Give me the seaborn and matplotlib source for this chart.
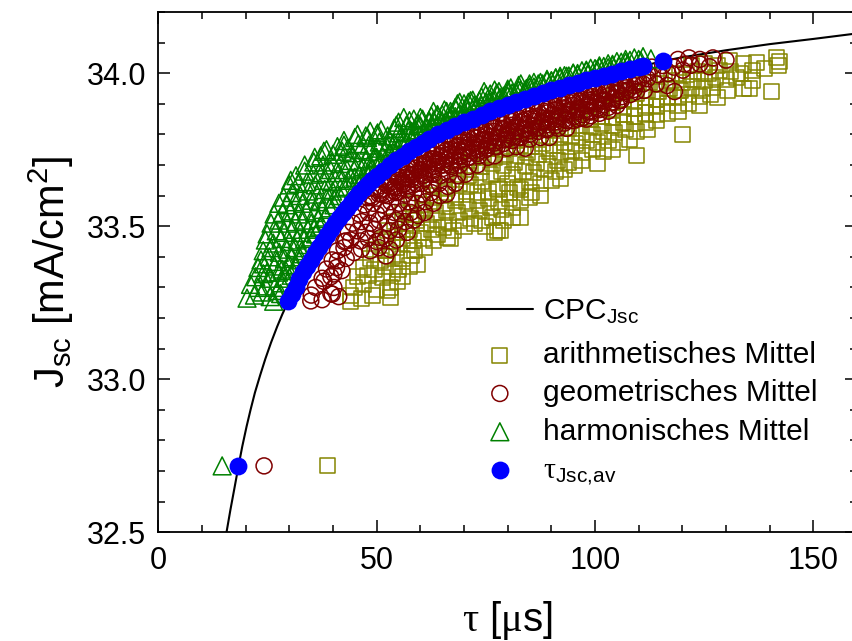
import matplotlib
matplotlib.use("Agg")
import matplotlib.pyplot as plt
import seaborn as sns
from matplotlib.ticker import MultipleLocator, FormatStrFormatter

sns.set_style("ticks", rc={"axes.edgecolor": "black", "xtick.color": "black",
                           "ytick.color": "black", "text.color": "black",
                           "axes.labelcolor": "black"})
plt.rcParams['font.family'] = ['Liberation Sans', 'DejaVu Sans']
plt.rcParams['mathtext.fontset'] = 'custom'
plt.rcParams['mathtext.rm'] = 'Liberation Serif'
plt.rcParams['mathtext.sf'] = 'Liberation Sans'
plt.rcParams['mathtext.it'] = 'Liberation Sans:italic'
plt.rcParams['mathtext.bf'] = 'Liberation Sans:bold'

# ---------------- data ----------------
cpc_tau = [15.0, 15.6, 16.5, 17.4, 18.3, 19.2, 20.2, 21.1, 22.1, 23.3, 24.5, 25.8, 27.2, 28.4,
           29.6, 31.0, 32.5, 34.0, 36.0, 38.0, 40.0, 42.0, 44.0, 47.0, 50.0, 54.0, 58.0, 62.0,
           66.0, 70.0, 75.0, 80.0, 85.0, 90.0, 95.0, 100.0, 105.0, 110.0, 115.0, 120.0, 130.0,
           140.0, 150.0, 160.0]
cpc_jsc = [32.449, 32.50, 32.574, 32.643, 32.713, 32.78, 32.846, 32.90, 32.956, 33.013, 33.067,
           33.12, 33.172, 33.213, 33.25, 33.29, 33.33, 33.368, 33.415, 33.459, 33.50, 33.538,
           33.574, 33.624, 33.665, 33.71, 33.75, 33.785, 33.815, 33.84, 33.87, 33.895, 33.92,
           33.945, 33.965, 33.985, 34.003, 34.02, 34.038, 34.052, 34.075, 34.095, 34.112, 34.13]

av_pts = [(18.2, 32.717),
          (29.6, 33.255), (30.5, 33.28), (31.4, 33.303), (32.3, 33.327), (33.2, 33.35),
          (34.1, 33.37), (35.0, 33.39), (35.9, 33.412), (36.8, 33.433), (37.7, 33.453),
          (38.6, 33.473), (39.5, 33.492), (40.4, 33.51), (41.3, 33.526), (42.2, 33.543),
          (43.1, 33.56), (44.0, 33.575), (45.0, 33.592), (46.0, 33.609), (47.0, 33.625),
          (48.0, 33.639), (49.0, 33.652), (50.0, 33.665), (51.5, 33.682), (53.0, 33.699),
          (54.5, 33.715), (56.0, 33.73), (57.5, 33.745), (59.0, 33.759), (60.5, 33.772),
          (62.0, 33.785), (64.0, 33.80), (66.0, 33.815), (68.0, 33.828), (70.0, 33.84),
          (72.0, 33.852), (74.0, 33.864), (76.0, 33.875), (78.0, 33.885), (80.0, 33.895),
          (82.0, 33.905), (84.0, 33.915), (86.0, 33.925), (88.0, 33.935), (90.0, 33.945),
          (92.0, 33.953), (94.0, 33.961), (96.0, 33.969), (98.0, 33.977), (100.0, 33.985),
          (102.0, 33.992), (104.0, 33.999), (106.0, 34.006), (108.0, 34.013), (110.0, 34.02),
          (111.0, 34.024), (115.5, 34.04)]

harm_pts = [(14.6, 32.717),
    (20.3, 33.265), (22.0, 33.275), (23.8, 33.285), (25.6, 33.27), (26.4, 33.255), (27.2, 33.29), (28.0, 33.28),
    (21.1, 33.31), (22.8, 33.30), (24.5, 33.305), (26.6, 33.30), (28.2, 33.315), (29.0, 33.33),
    (22.3, 33.335), (24.0, 33.345), (25.7, 33.33), (27.5, 33.35), (29.2, 33.355), (30.4, 33.34),
    (22.8, 33.365), (24.9, 33.35), (26.6, 33.37), (28.3, 33.36), (30.0, 33.375), (31.3, 33.37),
    (23.5, 33.39), (24.1, 33.377), (25.4, 33.40), (27.1, 33.385), (28.9, 33.395), (30.6, 33.40), (32.2, 33.39), (33.0, 33.41),
    (24.0, 33.42), (25.8, 33.43), (27.7, 33.415), (29.5, 33.425), (31.3, 33.43), (32.8, 33.42), (34.0, 33.44),
    (24.5, 33.455), (26.3, 33.445), (28.1, 33.46), (30.0, 33.45), (31.8, 33.455), (33.5, 33.46), (35.0, 33.465), (36.0, 33.475),
    (24.9, 33.475), (27.0, 33.485), (28.8, 33.48), (30.7, 33.49), (32.5, 33.48), (34.2, 33.49), (35.8, 33.495), (37.0, 33.50),
    (25.8, 33.51), (27.6, 33.52), (29.5, 33.51), (31.4, 33.515), (33.2, 33.52), (35.0, 33.51), (36.7, 33.525), (38.3, 33.53),
    (26.5, 33.54), (28.4, 33.545), (30.3, 33.55), (32.1, 33.54), (33.9, 33.55), (35.8, 33.545), (37.6, 33.555), (39.2, 33.56), (40.2, 33.57),
    (27.6, 33.575), (29.4, 33.57), (31.2, 33.58), (33.0, 33.575), (34.9, 33.585), (36.7, 33.58), (38.5, 33.59), (40.2, 33.59), (41.5, 33.60),
    (28.7, 33.595), (30.6, 33.61), (32.5, 33.60), (34.4, 33.615), (36.3, 33.605), (38.1, 33.62), (39.9, 33.615), (41.7, 33.625), (43.2, 33.63),
    (30.0, 33.635), (30.3, 33.65), (32.0, 33.64), (34.0, 33.645), (35.9, 33.635), (37.8, 33.65), (39.7, 33.645), (41.6, 33.655), (43.4, 33.65), (45.0, 33.66),
    (31.5, 33.665), (33.5, 33.68), (35.5, 33.67), (37.5, 33.675), (39.4, 33.685), (41.3, 33.675), (43.2, 33.685), (45.1, 33.69), (46.9, 33.695),
    (33.5, 33.70), (35.6, 33.71), (37.7, 33.70), (39.7, 33.71), (41.7, 33.705), (43.7, 33.715), (45.7, 33.71), (47.7, 33.72), (49.6, 33.725),
    (35.8, 33.725), (37.2, 33.73), (37.9, 33.745), (40.0, 33.735), (42.1, 33.745), (44.2, 33.74), (46.3, 33.75), (48.4, 33.745), (50.4, 33.755), (52.3, 33.76),
    (38.5, 33.75), (41.0, 33.76), (42.5, 33.765), (43.4, 33.755), (45.8, 33.77), (48.2, 33.765), (50.6, 33.775), (53.0, 33.78), (55.2, 33.785),
    (42.5, 33.78), (45.0, 33.79), (45.6, 33.80), (47.5, 33.795), (47.9, 33.79), (50.0, 33.80), (50.2, 33.805), (52.5, 33.795), (55.0, 33.805), (57.2, 33.81), (59.0, 33.815),
    (48.5, 33.81), (51.0, 33.815), (54.0, 33.82), (54.5, 33.83), (56.2, 33.855), (56.8, 33.83), (59.5, 33.835), (62.0, 33.84), (63.0, 33.845),
    (55.0, 33.84), (57.5, 33.845), (58.5, 33.85), (60.0, 33.855), (60.5, 33.85), (62.5, 33.86), (63.9, 33.865), (65.0, 33.865), (67.2, 33.87),
    (63.0, 33.875), (65.5, 33.88), (66.9, 33.875), (68.0, 33.885), (69.0, 33.905), (70.5, 33.89), (71.5, 33.91), (72.3, 33.895),
    (68.5, 33.90), (71.0, 33.905), (73.5, 33.91), (74.6, 33.94), (76.0, 33.915), (77.0, 33.945), (78.3, 33.92),
    (75.0, 33.93), (77.5, 33.935), (80.0, 33.94), (80.7, 33.952), (82.5, 33.945), (83.0, 33.965), (84.3, 33.95),
    (82.5, 33.96), (85.0, 33.965), (86.0, 33.97), (87.5, 33.97), (89.0, 33.98), (90.0, 33.975),
    (91.0, 33.985), (92.0, 33.99), (93.5, 33.99), (95.0, 34.0), (96.0, 33.995), (98.0, 34.01), (98.5, 34.0),
    (100.5, 34.012), (101.0, 34.02), (103.0, 34.018), (104.0, 34.025), (105.5, 34.025), (107.0, 34.035), (107.5, 34.03),
    (110.0, 34.045), (110.5, 34.04), (112.8, 34.047),
    (45.0, 33.627), (47.0, 33.66), (49.0, 33.69), (51.0, 33.711), (53.0, 33.734), (55.0, 33.755),
    (57.0, 33.775), (59.0, 33.794), (61.0, 33.811), (63.0, 33.825), (65.0, 33.843), (67.0, 33.856),
    (69.0, 33.869), (71.0, 33.881), (73.0, 33.893), (75.0, 33.905), (77.0, 33.915), (79.0, 33.925),
    (81.0, 33.935), (83.0, 33.945), (85.0, 33.955), (87.0, 33.965), (89.0, 33.975), (91.0, 33.984),
    (93.0, 33.992), (95.0, 34.0), (97.0, 34.008), (99.0, 34.016), (101.0, 34.024), (103.0, 34.031),
    (105.0, 34.038), (107.0, 34.045), (109.0, 34.05), (111.0, 34.054),
    (46.0, 33.669), (48.0, 33.699), (50.0, 33.725), (52.0, 33.748), (54.0, 33.77), (56.0, 33.79),
    (58.0, 33.81), (60.0, 33.828), (62.0, 33.845), (64.0, 33.86), (66.0, 33.875), (68.0, 33.888),
    (70.0, 33.90), (72.0, 33.912), (74.0, 33.922), (76.0, 33.932), (78.0, 33.94), (80.0, 33.948),
    (46.0, 33.639), (48.0, 33.669), (50.0, 33.695), (52.0, 33.718), (54.0, 33.74), (56.0, 33.76),
    (58.0, 33.78), (60.0, 33.798), (62.0, 33.815), (64.0, 33.83), (66.0, 33.845), (68.0, 33.858),
    (70.0, 33.87), (72.0, 33.882), (74.0, 33.894), (76.0, 33.905), (78.0, 33.915), (80.0, 33.925),
    (82.0, 33.935), (84.0, 33.945), (86.0, 33.955), (88.0, 33.965), (90.0, 33.975), (92.0, 33.983),
    (94.0, 33.991), (96.0, 33.999), (98.0, 34.007), (100.0, 34.015), (102.0, 34.022), (104.0, 34.029),
    (106.0, 34.036), (108.0, 34.042)]

geo_pts = [(24.2, 32.717),
    (35.0, 33.275), (34.9, 33.256), (37.5, 33.26), (39.5, 33.28), (41.3, 33.27), (39.8, 33.278),
    (36.0, 33.30), (37.9, 33.32), (40.2, 33.30),
    (37.5, 33.33), (39.5, 33.335), (40.2, 33.344),
    (38.5, 33.36), (40.8, 33.365), (42.0, 33.355),
    (39.8, 33.39), (41.0, 33.387), (43.0, 33.395), (52.1, 33.403),
    (41.0, 33.42), (42.5, 33.43), (44.8, 33.414), (46.5, 33.425), (48.5, 33.42), (50.5, 33.43), (53.0, 33.425),
    (42.5, 33.45), (42.9, 33.452), (44.0, 33.455), (46.3, 33.452), (48.0, 33.46), (50.0, 33.45), (52.0, 33.46), (54.5, 33.455),
    (43.5, 33.48), (45.6, 33.485), (47.5, 33.48), (49.5, 33.49), (50.9, 33.463), (53.0, 33.485), (55.0, 33.49), (57.0, 33.48),
    (44.5, 33.51), (46.5, 33.515), (48.5, 33.51), (50.5, 33.52), (52.5, 33.51), (54.5, 33.52), (56.5, 33.515), (58.5, 33.52),
    (46.0, 33.54), (48.0, 33.545), (50.0, 33.54), (52.0, 33.55), (54.0, 33.545), (56.0, 33.55), (57.8, 33.545), (59.4, 33.535), (61.0, 33.545),
    (47.2, 33.57), (49.2, 33.575), (51.2, 33.57), (53.2, 33.58), (55.2, 33.575), (57.2, 33.58), (59.2, 33.575), (61.2, 33.58), (63.0, 33.575),
    (48.5, 33.60), (50.5, 33.605), (52.5, 33.60), (54.5, 33.61), (56.5, 33.605), (58.5, 33.61), (60.5, 33.605), (62.5, 33.61), (64.5, 33.60), (66.0, 33.605),
    (50.3, 33.63), (52.3, 33.635), (54.3, 33.63), (56.3, 33.64), (58.3, 33.635), (60.3, 33.64), (62.3, 33.635), (64.3, 33.64), (66.3, 33.63), (68.0, 33.64),
    (52.5, 33.66), (54.5, 33.665), (56.5, 33.66), (58.5, 33.67), (60.5, 33.665), (62.5, 33.67), (64.5, 33.665), (66.5, 33.67), (68.5, 33.665), (70.3, 33.67),
    (55.0, 33.69), (57.0, 33.695), (59.0, 33.69), (61.0, 33.70), (63.0, 33.695), (65.0, 33.70), (67.0, 33.695), (69.0, 33.70), (71.0, 33.695), (73.0, 33.70),
    (58.0, 33.72), (60.2, 33.725), (62.4, 33.72), (64.6, 33.73), (66.8, 33.725), (69.0, 33.73), (71.2, 33.725), (73.4, 33.73), (75.4, 33.725), (77.0, 33.73),
    (61.5, 33.75), (63.8, 33.755), (66.1, 33.75), (68.4, 33.76), (70.7, 33.755), (73.0, 33.76), (75.3, 33.755), (77.6, 33.76), (79.9, 33.755), (82.0, 33.76), (84.0, 33.755),
    (65.0, 33.78), (67.5, 33.785), (70.0, 33.78), (72.5, 33.79), (75.0, 33.785), (77.5, 33.79), (80.0, 33.785), (82.5, 33.79), (85.0, 33.785), (87.5, 33.79), (89.5, 33.79),
    (69.0, 33.81), (71.5, 33.815), (74.0, 33.81), (76.5, 33.82), (79.0, 33.815), (81.5, 33.82), (84.0, 33.815), (86.5, 33.82), (89.0, 33.815), (91.5, 33.82), (93.5, 33.82),
    (73.5, 33.84), (76.0, 33.845), (78.5, 33.84), (81.0, 33.85), (83.5, 33.845), (86.0, 33.85), (88.5, 33.845), (91.0, 33.85), (93.5, 33.845), (96.0, 33.85), (98.0, 33.85),
    (78.5, 33.87), (81.0, 33.875), (83.5, 33.87), (86.0, 33.88), (88.5, 33.875), (91.0, 33.88), (93.5, 33.875), (96.0, 33.88), (98.5, 33.875), (100.5, 33.885),
    (84.0, 33.90), (86.5, 33.905), (89.0, 33.90), (91.5, 33.91), (94.0, 33.905), (96.5, 33.91), (99.0, 33.905), (101.5, 33.91), (103.8, 33.905), (105.5, 33.91),
    (90.0, 33.93), (92.5, 33.935), (95.0, 33.93), (97.5, 33.94), (100.0, 33.935), (102.5, 33.94), (105.0, 33.935), (107.5, 33.945), (109.5, 33.94),
    (97.0, 33.96), (99.5, 33.965), (102.0, 33.96), (104.5, 33.97), (107.0, 33.965), (109.5, 33.97), (111.3, 33.944), (114.0, 33.965), (116.5, 33.96), (118.2, 33.94),
    (104.5, 33.99), (107.0, 33.995), (109.5, 33.99), (112.0, 34.0), (114.5, 33.995), (116.7, 33.999), (120.1, 34.01),
    (113.0, 34.02), (115.5, 34.025), (118.0, 34.02), (120.5, 34.03), (122.0, 34.026), (124.0, 34.03), (126.2, 34.021),
    (119.0, 34.045), (121.5, 34.05), (124.0, 34.045), (127.0, 34.05), (130.0, 34.043),
    (48.0, 33.593), (50.0, 33.62), (52.0, 33.643), (54.0, 33.665), (56.0, 33.685), (58.0, 33.705),
    (60.0, 33.723), (62.0, 33.74), (64.0, 33.755), (66.0, 33.77), (68.0, 33.783), (70.0, 33.795),
    (72.0, 33.807), (74.0, 33.819), (76.0, 33.83), (78.0, 33.84), (80.0, 33.85), (82.0, 33.86),
    (84.0, 33.87), (86.0, 33.88), (88.0, 33.89), (90.0, 33.90), (92.0, 33.908), (94.0, 33.916),
    (96.0, 33.924), (98.0, 33.932), (100.0, 33.94), (102.0, 33.947), (104.0, 33.954), (106.0, 33.961),
    (108.0, 33.968), (110.0, 33.975), (112.0, 33.982),
    (49.0, 33.594), (51.0, 33.618), (53.0, 33.641), (55.0, 33.662), (57.0, 33.682), (59.0, 33.701),
    (61.0, 33.718), (63.0, 33.732), (65.0, 33.75), (67.0, 33.763), (69.0, 33.776), (71.0, 33.788),
    (73.0, 33.80), (75.0, 33.812), (77.0, 33.822), (79.0, 33.832), (81.0, 33.842), (83.0, 33.852),
    (85.0, 33.862), (87.0, 33.872), (89.0, 33.882), (91.0, 33.891), (93.0, 33.899), (95.0, 33.907),
    (97.0, 33.915), (99.0, 33.923), (101.0, 33.931), (103.0, 33.938), (105.0, 33.945), (107.0, 33.952),
    (109.0, 33.959), (111.0, 33.965),
    (51.0, 33.606), (53.0, 33.629), (55.0, 33.65), (57.0, 33.67), (59.0, 33.689), (61.0, 33.706),
    (63.0, 33.72), (65.0, 33.738), (67.0, 33.751), (69.0, 33.764), (71.0, 33.776), (73.0, 33.788),
    (75.0, 33.80), (77.0, 33.81), (79.0, 33.82), (81.0, 33.83), (83.0, 33.84), (85.0, 33.85),
    (87.0, 33.86), (89.0, 33.87), (91.0, 33.879), (93.0, 33.887), (95.0, 33.895), (97.0, 33.903),
    (99.0, 33.911), (101.0, 33.919), (103.0, 33.926), (105.0, 33.933), (107.0, 33.94), (109.0, 33.947),
    (52.0, 33.605), (54.0, 33.627), (56.0, 33.647), (58.0, 33.667), (60.0, 33.685), (62.0, 33.702),
    (64.0, 33.717), (66.0, 33.732), (68.0, 33.745), (70.0, 33.757), (72.0, 33.769), (74.0, 33.781),
    (76.0, 33.792), (78.0, 33.802), (80.0, 33.812), (82.0, 33.822), (84.0, 33.832), (86.0, 33.842),
    (88.0, 33.852), (90.0, 33.862), (92.0, 33.87), (94.0, 33.878), (96.0, 33.886), (98.0, 33.894),
    (100.0, 33.902), (102.0, 33.909), (104.0, 33.916), (106.0, 33.923), (108.0, 33.93),
    (54.0, 33.615), (56.0, 33.635), (58.0, 33.655), (60.0, 33.673), (62.0, 33.69), (64.0, 33.705),
    (66.0, 33.72), (68.0, 33.733), (70.0, 33.745), (72.0, 33.757), (74.0, 33.769), (76.0, 33.78),
    (78.0, 33.79), (80.0, 33.80), (82.0, 33.81), (84.0, 33.82), (86.0, 33.83), (88.0, 33.84),
    (90.0, 33.85), (92.0, 33.858), (94.0, 33.866), (96.0, 33.874), (98.0, 33.882), (100.0, 33.89),
    (102.0, 33.897), (104.0, 33.904), (106.0, 33.911),
    (55.0, 33.612), (57.0, 33.632), (59.0, 33.651), (61.0, 33.668), (63.0, 33.682), (65.0, 33.70),
    (67.0, 33.713), (69.0, 33.726), (71.0, 33.738), (73.0, 33.75), (75.0, 33.762), (77.0, 33.772),
    (79.0, 33.782), (81.0, 33.792), (83.0, 33.802), (85.0, 33.812), (87.0, 33.822), (89.0, 33.832),
    (91.0, 33.841), (93.0, 33.849), (95.0, 33.857), (97.0, 33.865), (99.0, 33.873), (101.0, 33.881),
    (103.0, 33.888), (105.0, 33.895),
    (57.0, 33.62), (59.0, 33.639), (61.0, 33.656), (63.0, 33.67), (65.0, 33.688), (67.0, 33.701),
    (69.0, 33.714), (71.0, 33.726), (73.0, 33.738), (75.0, 33.75), (77.0, 33.76), (79.0, 33.77),
    (81.0, 33.78), (83.0, 33.79), (85.0, 33.80), (87.0, 33.81), (89.0, 33.82), (91.0, 33.829),
    (93.0, 33.837), (95.0, 33.845), (97.0, 33.853), (99.0, 33.861), (101.0, 33.869), (103.0, 33.876)]

arith_pts = [(38.7, 32.717),
    (44.0, 33.275), (44.0, 33.255), (46.5, 33.265), (49.0, 33.275), (52.4, 33.289), (53.2, 33.267),
    (44.8, 33.30), (47.0, 33.31), (50.0, 33.295), (53.2, 33.30), (54.7, 33.32),
    (45.5, 33.335), (48.0, 33.34), (51.3, 33.332), (53.5, 33.345), (56.0, 33.335),
    (47.0, 33.365), (49.5, 33.36), (52.0, 33.37), (55.0, 33.36), (57.5, 33.37), (59.3, 33.376),
    (48.5, 33.395), (50.9, 33.387), (53.5, 33.40), (56.0, 33.395), (58.0, 33.405),
    (49.5, 33.425), (52.0, 33.42), (54.5, 33.43), (57.0, 33.44), (58.6, 33.42), (61.0, 33.43),
    (51.0, 33.455), (53.5, 33.45), (56.0, 33.46), (58.5, 33.452), (60.8, 33.46), (63.0, 33.455), (66.2, 33.463), (67.0, 33.46),
    (52.5, 33.485), (55.0, 33.48), (57.5, 33.49), (60.0, 33.48), (62.5, 33.49), (63.9, 33.474), (65.4, 33.495), (67.5, 33.485),
    (70.0, 33.50), (72.5, 33.51), (75.0, 33.50), (76.9, 33.48), (77.7, 33.485), (78.4, 33.485),
    (54.0, 33.515), (56.5, 33.51), (59.0, 33.52), (61.5, 33.51), (64.0, 33.52), (66.5, 33.515), (69.0, 33.52), (71.5, 33.525), (74.0, 33.52), (76.5, 33.53), (79.0, 33.52), (81.0, 33.53),
    (56.0, 33.545), (58.5, 33.54), (61.0, 33.55), (63.5, 33.545), (66.0, 33.55), (68.5, 33.545), (71.0, 33.555), (73.5, 33.55), (76.0, 33.56), (78.5, 33.555), (81.0, 33.56), (83.0, 33.529),
    (58.0, 33.575), (60.5, 33.57), (63.0, 33.58), (65.5, 33.575), (68.0, 33.585), (70.5, 33.58), (73.0, 33.585), (75.5, 33.59), (78.0, 33.58), (80.5, 33.59), (83.0, 33.585), (85.0, 33.594),
    (60.5, 33.605), (63.0, 33.60), (65.5, 33.61), (68.0, 33.605), (70.5, 33.615), (73.0, 33.61), (75.5, 33.615), (78.0, 33.62), (80.5, 33.61), (83.0, 33.62), (85.5, 33.61), (87.6, 33.60),
    (63.0, 33.635), (66.2, 33.627), (69.0, 33.64), (71.5, 33.635), (74.0, 33.645), (77.7, 33.622), (80.0, 33.64), (82.3, 33.627), (85.0, 33.645), (87.5, 33.64), (90.0, 33.65), (92.0, 33.655),
    (66.0, 33.665), (68.5, 33.67), (71.0, 33.665), (73.5, 33.675), (76.0, 33.67), (78.5, 33.68), (81.0, 33.67), (83.5, 33.68), (86.0, 33.675), (88.5, 33.685), (91.0, 33.68), (93.0, 33.685),
    (69.0, 33.695), (71.5, 33.70), (74.0, 33.695), (76.5, 33.705), (79.0, 33.70), (81.5, 33.71), (84.0, 33.70), (86.5, 33.71), (89.0, 33.705), (91.5, 33.715), (94.0, 33.71), (95.3, 33.698), (97.0, 33.715), (100.6, 33.704),
    (72.0, 33.725), (74.5, 33.73), (77.0, 33.725), (79.5, 33.735), (82.0, 33.73), (84.5, 33.74), (87.0, 33.735), (89.5, 33.745), (92.0, 33.74), (94.5, 33.745), (97.0, 33.74), (99.5, 33.75), (102.0, 33.745), (104.0, 33.75), (109.4, 33.731),
    (75.5, 33.755), (78.0, 33.76), (80.5, 33.755), (83.0, 33.765), (85.5, 33.76), (88.0, 33.77), (90.5, 33.765), (93.0, 33.775), (95.5, 33.77), (98.0, 33.78), (100.5, 33.775), (103.0, 33.78), (105.5, 33.775), (108.0, 33.785),
    (79.5, 33.785), (82.0, 33.79), (84.5, 33.785), (87.0, 33.795), (89.5, 33.79), (92.0, 33.80), (94.5, 33.795), (97.0, 33.805), (99.5, 33.80), (102.0, 33.81), (104.5, 33.805), (107.0, 33.815), (109.5, 33.81), (112.0, 33.815),
    (84.0, 33.815), (86.5, 33.82), (89.0, 33.815), (91.5, 33.825), (94.0, 33.82), (96.5, 33.83), (99.0, 33.825), (101.5, 33.835), (104.0, 33.83), (106.5, 33.84), (109.0, 33.835), (111.5, 33.84), (114.0, 33.845), (120.1, 33.80),
    (89.0, 33.845), (91.5, 33.85), (94.0, 33.845), (96.5, 33.855), (99.0, 33.85), (101.5, 33.86), (104.0, 33.855), (106.5, 33.865), (109.0, 33.86), (111.5, 33.87), (114.0, 33.865), (116.5, 33.87), (119.0, 33.875),
    (94.0, 33.875), (96.5, 33.88), (99.0, 33.875), (101.5, 33.885), (104.0, 33.88), (106.5, 33.89), (109.0, 33.885), (111.5, 33.895), (114.0, 33.89), (116.5, 33.90), (119.0, 33.895), (121.5, 33.90), (124.0, 33.895),
    (99.0, 33.905), (101.5, 33.91), (104.0, 33.905), (106.5, 33.915), (109.0, 33.91), (111.5, 33.92), (114.0, 33.915), (116.5, 33.925), (119.0, 33.92), (121.5, 33.93), (124.0, 33.925), (126.5, 33.93), (128.0, 33.92),
    (104.5, 33.935), (107.0, 33.94), (109.5, 33.935), (112.0, 33.945), (114.5, 33.94), (117.0, 33.95), (119.5, 33.945), (122.0, 33.955), (124.5, 33.95), (127.0, 33.955), (130.4, 33.944), (134.0, 33.95), (135.4, 33.95), (140.4, 33.939),
    (110.0, 33.965), (112.5, 33.97), (115.0, 33.965), (117.5, 33.975), (120.0, 33.97), (122.5, 33.98), (125.0, 33.975), (127.5, 33.985), (130.0, 33.98), (132.5, 33.985), (136.0, 33.975),
    (116.0, 33.995), (118.5, 34.0), (121.0, 33.995), (123.5, 34.005), (126.0, 34.0), (128.5, 34.01), (131.0, 34.005), (133.4, 34.0), (136.0, 34.01), (138.8, 34.016),
    (122.0, 34.025), (125.0, 34.03), (128.0, 34.025), (130.7, 34.043), (134.0, 34.03), (137.0, 34.035), (141.9, 34.026), (142.3, 34.037), (141.5, 34.05)]

labels = [r'CPC$_{\mathsf{Jsc}}$', 'arithmetisches Mittel', 'geometrisches Mittel',
          'harmonisches Mittel', r'$\mathrm{\tau}_{\mathsf{Jsc{,}av}}$']
colors = ['black', '#858500', '#800000', '#008000', '#0000ff']

arith_tau = [p[0] for p in arith_pts]; arith_jsc = [p[1] for p in arith_pts]
geo_tau = [p[0] for p in geo_pts]; geo_jsc = [p[1] for p in geo_pts]
harm_tau = [p[0] for p in harm_pts]; harm_jsc = [p[1] for p in harm_pts]
av_tau = [p[0] for p in av_pts]; av_jsc = [p[1] for p in av_pts]

# ---------------- figure ----------------
W, H = 852, 641
fig = plt.figure(figsize=(W / 100, H / 100), dpi=100)
ax = fig.add_axes([158.4 / W, 1 - 532.3 / H, 698.6 / W, 520.3 / H])

sns.lineplot(x=cpc_tau, y=cpc_jsc, color=colors[0], linewidth=1.5, sort=False,
             estimator=None, ax=ax, label=labels[0], zorder=2)
sns.scatterplot(x=arith_tau, y=arith_jsc, marker='s', s=118, facecolor='none',
                edgecolor=colors[1], linewidth=1.1, ax=ax, label=labels[1], zorder=3)
sns.scatterplot(x=geo_tau, y=geo_jsc, marker='o', s=132, facecolor='none',
                edgecolor=colors[2], linewidth=1.1, ax=ax, label=labels[2], zorder=3)
sns.scatterplot(x=harm_tau, y=harm_jsc, marker='^', s=165, facecolor='none',
                edgecolor=colors[3], linewidth=1.1, ax=ax, label=labels[3], zorder=3)
sns.scatterplot(x=av_tau, y=av_jsc, marker='o', s=165, color=colors[4],
                edgecolor=colors[4], linewidth=0, ax=ax, label=labels[4], zorder=4)

ax.set_xlim(0, 160)
ax.set_ylim(32.5, 34.2)
ax.xaxis.set_major_locator(MultipleLocator(50))
ax.xaxis.set_minor_locator(MultipleLocator(10))
ax.yaxis.set_major_locator(MultipleLocator(0.5))
ax.yaxis.set_minor_locator(MultipleLocator(0.1))
ax.yaxis.set_major_formatter(FormatStrFormatter('%.1f'))
ax.xaxis.set_major_formatter(FormatStrFormatter('%d'))
ax.tick_params(which='both', direction='in', top=True, right=True, width=1.1, colors='black')
ax.tick_params(which='major', length=8.4, labelsize=22)
ax.tick_params(axis='x', which='major', pad=10)
ax.tick_params(axis='y', which='major', pad=9)
ax.tick_params(which='minor', length=4.8)
for sp in ax.spines.values():
    sp.set_linewidth(1.3)
    sp.set_color('black')

ax.set_xlabel(r'$\mathrm{\tau}$ [$\mathrm{\mu}$s]', fontsize=29)
ax.set_ylabel(r'J$_{\mathsf{sc}}$ [mA/cm$^{\mathsf{2}}$]', fontsize=30)
ax.xaxis.set_label_coords(0.5, -0.128)
ax.yaxis.set_label_coords(-0.118, 0.5)

handles, labs = ax.get_legend_handles_labels()
leg_kw = dict(loc='upper left', bbox_transform=fig.transFigure, frameon=False,
              fontsize=21.5, handlelength=2.2, handletextpad=0.33,
              borderpad=0, borderaxespad=0)
leg1 = ax.legend(handles[:1], labs[:1], bbox_to_anchor=(467 / W, 1 - 297 / H),
                 labelspacing=0.3, **leg_kw)
ax.add_artist(leg1)
ax.legend(handles[1:], labs[1:], bbox_to_anchor=(467 / W, 1 - 341 / H),
          labelspacing=0.345, **leg_kw)

fig.savefig('out.png', dpi=100)
